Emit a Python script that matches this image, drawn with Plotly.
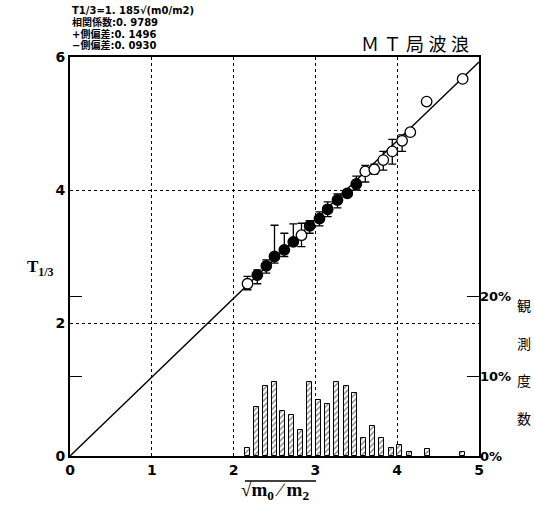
import numpy as np
import plotly.graph_objects as go

# Regression and statistics shown in the header
coef = 1.185
corr = "0.9789"
dev_plus = "0.1496"
dev_minus = "0.0930"

# Mean T1/3 for each sqrt(m0/m2) class, with asymmetric spread
x_pts = [2.17, 2.29, 2.40, 2.50, 2.62, 2.73, 2.83, 2.93, 3.05, 3.15, 3.27,
         3.39, 3.50, 3.61, 3.72, 3.83, 3.94, 4.06, 4.16, 4.36, 4.80]
y_pts = [2.59, 2.72, 2.86, 3.00, 3.10, 3.22, 3.32, 3.46, 3.57, 3.71, 3.85,
         3.95, 4.09, 4.28, 4.31, 4.45, 4.58, 4.74, 4.87, 5.33, 5.67]
err_up = [0.11, 0.08, 0.09, 0.47, 0.25, 0.27, 0.18, 0.08, 0.10, 0.11, 0.09,
          0.04, 0.12, 0.09, 0.08, 0.13, 0.18, 0.09, 0.00, 0.04, 0.00]
err_dn = [0.09, 0.13, 0.11, 0.10, 0.10, 0.06, 0.17, 0.11, 0.11, 0.11, 0.12,
          0.04, 0.09, 0.16, 0.07, 0.15, 0.19, 0.16, 0.00, 0.04, 0.00]
filled = [0, 1, 1, 1, 1, 1, 0, 1, 1, 1, 1, 1, 1, 0, 0, 0, 0, 0, 0, 0, 0]

# Observation frequency histogram (%)
hist_x = [2.17, 2.28, 2.39, 2.50, 2.60, 2.71, 2.82, 2.93, 3.04, 3.15, 3.26,
          3.38, 3.48, 3.59, 3.70, 3.81, 3.93, 4.03, 4.15, 4.37, 4.80]
hist_pct = [1.0, 6.1, 8.8, 9.3, 5.6, 5.1, 3.2, 9.3, 7.0, 6.5, 9.3,
            8.8, 7.9, 2.3, 3.7, 2.3, 1.0, 1.4, 0.5, 0.9, 0.5]

x_ticks = [0, 1, 2, 3, 4, 5]
y_ticks = [0, 2, 4, 6]
pct_ticks = [0, 10, 20]

TICK_FONT = dict(family="DejaVu Sans", size=14, color="black", weight="bold")
CJK = "Noto Sans CJK JP"

# plot area geometry in pixels (used to place free text in paper units)
ML, MR, MT, MB = 70, 55, 57, 49
W, H = 534, 505
PW, PH = W - ML - MR, H - MT - MB


def px_x(p):
    return (p - ML) / PW


def px_y(p):
    return (H - MB - p) / PH


fig = go.Figure()

# histogram on the secondary (percent) axis
fig.add_trace(go.Bar(
    x=hist_x, y=hist_pct, yaxis="y2", width=0.055,
    marker=dict(color="white", line=dict(color="black", width=1),
                pattern=dict(shape="/", fgcolor="black", bgcolor="white",
                             size=4, solidity=0.35)),
    showlegend=False, hoverinfo="skip"))

# regression line T1/3 = coef * sqrt(m0/m2)
xl = np.array([0.0, 5.0])
fig.add_trace(go.Scatter(x=xl, y=coef * xl, mode="lines",
                         line=dict(color="black", width=1.4),
                         showlegend=False, hoverinfo="skip"))


def pick(vals, flag):
    return [v for v, f in zip(vals, filled) if f == flag]


for flag in (0, 1):
    fig.add_trace(go.Scatter(
        x=pick(x_pts, flag), y=pick(y_pts, flag), mode="markers",
        marker=dict(size=10.5, symbol="circle",
                    color="black" if flag else "white",
                    line=dict(color="black", width=1.3)),
        error_y=dict(type="data", symmetric=False,
                     array=pick(err_up, flag), arrayminus=pick(err_dn, flag),
                     color="black", thickness=1.3, width=4),
        showlegend=False))

fig.update_layout(
    width=W, height=H,
    margin=dict(l=ML, r=MR, t=MT, b=MB),
    paper_bgcolor="white", plot_bgcolor="white",
    bargap=0,
    xaxis=dict(range=[0, 5], tickvals=x_ticks, ticktext=[str(v) for v in x_ticks],
               showgrid=True, gridcolor="black", griddash="dot", gridwidth=1,
               zeroline=False, showline=True, linecolor="black", linewidth=2,
               mirror=True, ticks="", tickfont=TICK_FONT),
    yaxis=dict(range=[0, 6], tickvals=y_ticks, ticktext=[str(v) for v in y_ticks],
               showgrid=True, gridcolor="black", griddash="dot", gridwidth=1,
               zeroline=False, showline=True, linecolor="black", linewidth=2,
               mirror=True, ticks="", tickfont=TICK_FONT),
    yaxis2=dict(range=[0, 50], overlaying="y", side="right",
                tickvals=pct_ticks, ticktext=[f"{v}%" for v in pct_ticks],
                ticks="inside", ticklen=12, tickwidth=1.2, tickcolor="black",
                mirror="ticks", showgrid=False, zeroline=False, showline=False,
                tickfont=dict(family="DejaVu Sans", size=13, color="black",
                              weight="bold")),
)

# header statistics
header = [f"T1/3=1. {str(coef)[2:]}√(m0/m2)",
          f"相関係数:{corr[:2]} {corr[2:]}",
          f"+側偏差:{dev_plus[:2]} {dev_plus[2:]}",
          f"−側偏差:{dev_minus[:2]} {dev_minus[2:]}"]
for i, line in enumerate(header):
    fig.add_annotation(xref="paper", yref="paper", x=0.0, y=px_y(11 + 11.5 * i),
                       text=line, showarrow=False, xanchor="left", yanchor="middle",
                       font=dict(family=f"DejaVu Sans, {CJK}", size=10, color="black",
                                 weight="bold"))

# chart title
fig.add_annotation(xref="paper", yref="paper", x=px_x(471), y=px_y(45),
                   xanchor="right", yanchor="middle", text="Ｍ Ｔ 局 波 浪",
                   showarrow=False,
                   font=dict(family=f"Liberation Serif, {CJK}", size=18, color="black"))

# axis titles
fig.add_annotation(xref="paper", yref="paper", x=px_x(56), y=px_y(268),
                   xanchor="right", yanchor="middle",
                   text="<b>T</b><sub><b>1/3</b></sub>", showarrow=False,
                   font=dict(family="Liberation Serif", size=17, color="black"))
fig.add_annotation(xref="paper", yref="paper", x=px_x(275), y=px_y(491),
                   xanchor="center", yanchor="middle",
                   text="√<b>m</b><sub><b>0</b></sub> ∕ <b>m</b><sub><b>2</b></sub>",
                   showarrow=False,
                   font=dict(family="Liberation Serif", size=19, color="black"))
fig.add_shape(type="line", xref="paper", yref="paper", x0=px_x(245), x1=px_x(316),
              y0=px_y(481), y1=px_y(481), line=dict(color="black", width=1.5))

# vertical label for the percent axis
for i, ch in enumerate("観測度数"):
    fig.add_annotation(xref="paper", yref="paper", x=px_x(524),
                       y=px_y(305 + 37.5 * i), text=ch, showarrow=False,
                       xanchor="center", yanchor="middle",
                       font=dict(family=CJK, size=14, color="black"))

fig.write_html("out.html")
